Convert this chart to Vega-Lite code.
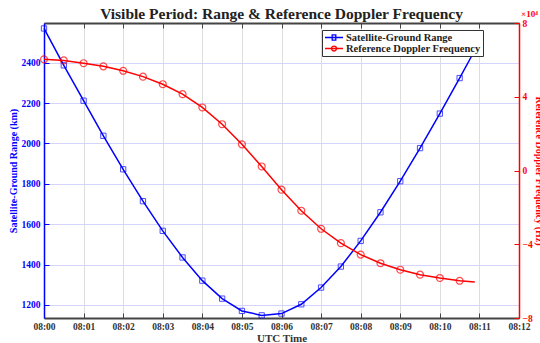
{
  "$schema": "https://vega.github.io/schema/vega-lite/v6.json",
  "autosize": {"type": "none"},
  "width": 475,
  "height": 295,
  "padding": {"left": 44, "top": 23, "right": 21, "bottom": 25},
  "title": {"text": "Visible Period: Range & Reference Doppler Frequency", "font": "Liberation Serif", "fontSize": 15.5, "fontWeight": "bold", "color": "#222222", "anchor": "middle", "offset": -4, "dy": 8},
  "config": {"view": {"stroke": null}, "font": "Liberation Serif"},
  "data": {"values": [
    {"t": "2024-01-01T08:00:00Z", "range": 2570, "doppler": 60300},
    {"t": "2024-01-01T08:00:30Z", "range": 2387, "doppler": 59700},
    {"t": "2024-01-01T08:01:00Z", "range": 2212, "doppler": 58200},
    {"t": "2024-01-01T08:01:30Z", "range": 2038, "doppler": 56500},
    {"t": "2024-01-01T08:02:00Z", "range": 1872, "doppler": 54100},
    {"t": "2024-01-01T08:02:30Z", "range": 1714, "doppler": 50900},
    {"t": "2024-01-01T08:03:00Z", "range": 1567, "doppler": 46800},
    {"t": "2024-01-01T08:03:30Z", "range": 1435, "doppler": 41400},
    {"t": "2024-01-01T08:04:00Z", "range": 1320, "doppler": 34200},
    {"t": "2024-01-01T08:04:30Z", "range": 1231, "doppler": 25100},
    {"t": "2024-01-01T08:05:00Z", "range": 1170, "doppler": 14200},
    {"t": "2024-01-01T08:05:30Z", "range": 1148, "doppler": 2200},
    {"t": "2024-01-01T08:06:00Z", "range": 1157, "doppler": -10400},
    {"t": "2024-01-01T08:06:30Z", "range": 1203, "doppler": -21800},
    {"t": "2024-01-01T08:07:00Z", "range": 1286, "doppler": -31600},
    {"t": "2024-01-01T08:07:30Z", "range": 1390, "doppler": -39400},
    {"t": "2024-01-01T08:08:00Z", "range": 1517, "doppler": -45600},
    {"t": "2024-01-01T08:08:30Z", "range": 1659, "doppler": -50300},
    {"t": "2024-01-01T08:09:00Z", "range": 1813, "doppler": -53800},
    {"t": "2024-01-01T08:09:30Z", "range": 1977, "doppler": -56500},
    {"t": "2024-01-01T08:10:00Z", "range": 2148, "doppler": -58300},
    {"t": "2024-01-01T08:10:30Z", "range": 2324, "doppler": -59800},
    {"t": "2024-01-01T08:10:53Z", "range": 2462, "doppler": -60500}
  ], "format": {"parse": {"t": "date"}}},
  "layer": [
    {
      "layer": [
        {
          "mark": {"type": "line", "strokeWidth": 1.5},
          "encoding": {
            "x": {"field": "t", "type": "temporal",
              "scale": {"type": "utc", "domain": [{"year": 2024, "month": 1, "date": 1, "hours": 8, "minutes": 0, "utc": true}, {"year": 2024, "month": 1, "date": 1, "hours": 8, "minutes": 12, "utc": true}], "nice": false},
              "axis": {"orient": "bottom", "title": "UTC Time", "titleFont": "Liberation Serif", "titleFontSize": 11, "titleFontWeight": "bold", "titleColor": "#333333", "titlePadding": 2,
                "labelExpr": "utcFormat(datum.value, '%H:%M')", "tickCount": 12, "labelFont": "Liberation Serif", "labelFontSize": 9.5, "labelFontWeight": "bold", "labelColor": "#333333", "labelOverlap": false, "labelFlush": false, "labelPadding": 8,
                "domainColor": "#444444", "domainWidth": 1.8, "tickColor": "#444444", "tickSize": -5, "tickWidth": 1,
                "grid": true, "gridColor": "#dddddd", "gridWidth": 1}},
            "y": {"field": "range", "type": "quantitative",
              "scale": {"domain": [1135, 2597], "nice": false, "zero": false},
              "axis": {"orient": "left", "values": [1200, 1400, 1600, 1800, 2000, 2200, 2400], "format": "d", "title": "Satellite-Ground Range (km)", "titleFont": "Liberation Serif", "titleFontSize": 10, "titleFontWeight": "bold", "titleColor": "#0000ff", "titlePadding": 3,
                "labelFont": "Liberation Serif", "labelFontSize": 9.5, "labelFontWeight": "bold", "labelColor": "#0000ff", "labelPadding": 9,
                "domainColor": "#0000ff", "domainWidth": 1.5, "tickColor": "#0000ff", "tickSize": -5,
                "grid": true, "gridColor": "#d4d4ff", "gridWidth": 1}},
            "color": {"datum": "Satellite-Ground Range", "type": "nominal",
              "scale": {"domain": ["Satellite-Ground Range", "Reference Doppler Frequency"], "range": ["#0000ff", "#ff0000"]},
              "legend": {"orient": "none", "legendX": 278, "legendY": 7, "title": null,
                "fillColor": "white", "strokeColor": "#333333", "padding": 2, "rowPadding": 0,
                "labelFont": "Liberation Serif", "labelFontSize": 10.5, "labelFontWeight": "bold", "labelColor": "#222222", "labelOffset": 11,
                "symbolSize": 81, "symbolStrokeWidth": 1.3,
                "encode": {
                  "symbols": {"update": {"shape": {"signal": "datum.value === 'Satellite-Ground Range' ? 'M-1,0L3,0M0.6,-0.6L1.4,-0.6L1.4,0.6L0.6,0.6Z' : 'M-1,0L3,0M0.45,0A0.55,0.55 0 1,1 1.55,0A0.55,0.55 0 1,1 0.45,0Z'"}}}
                }}}
          }
        },
        {
          "transform": [{"filter": "utcseconds(datum.t) % 30 === 0"}],
          "mark": {"type": "point", "shape": "square", "filled": false, "color": "#0000ff", "size": 28, "strokeWidth": 1},
          "encoding": {
            "x": {"field": "t", "type": "temporal"},
            "y": {"field": "range", "type": "quantitative"}
          }
        }
      ]
    },
    {
      "layer": [
        {
          "mark": {"type": "line", "strokeWidth": 1.5},
          "encoding": {
            "x": {"field": "t", "type": "temporal"},
            "y": {"field": "doppler", "type": "quantitative",
              "scale": {"domain": [-80000, 80000], "nice": false, "zero": false},
              "axis": {"orient": "right", "values": [-80000, -60000, -40000, -20000, 0, 20000, 40000, 60000, 80000], "labelExpr": "format(datum.value / 10000, 'd')", "title": "Reference Doppler Frequency (Hz)", "titleFont": "Liberation Serif", "titleFontSize": 10, "titleFontWeight": "bold", "titleColor": "#ff0000", "titlePadding": 1,
                "labelFont": "Liberation Serif", "labelFontSize": 9.5, "labelFontWeight": "bold", "labelColor": "#ff0000", "labelPadding": 8,
                "domainColor": "#ff0000", "domainWidth": 1.5, "tickColor": "#ff0000", "tickSize": -5, "grid": false}},
            "color": {"datum": "Reference Doppler Frequency", "type": "nominal"}
          }
        },
        {
          "transform": [{"filter": "utcseconds(datum.t) % 30 === 0"}],
          "mark": {"type": "point", "shape": "circle", "filled": false, "color": "#ff0000", "size": 48, "strokeWidth": 1.2},
          "encoding": {
            "x": {"field": "t", "type": "temporal",
              "axis": {"orient": "top", "title": null, "labels": false, "grid": false, "tickCount": 12, "domainColor": "#444444", "domainWidth": 1.8, "tickColor": "#444444", "tickSize": -5}},
            "y": {"field": "doppler", "type": "quantitative"}
          }
        },
        {
          "data": {"values": [{"note": "exponent"}]},
          "mark": {"type": "text", "text": "×10⁴", "color": "#ff0000", "font": "Liberation Serif", "fontSize": 9, "fontWeight": "bold", "align": "left", "baseline": "bottom", "dx": 2, "dy": -4},
          "encoding": {
            "x": {"datum": {"year": 2024, "month": 1, "date": 1, "hours": 8, "minutes": 12, "utc": true}, "type": "temporal"},
            "y": {"datum": 80000, "type": "quantitative"}
          }
        }
      ]
    }
  ],
  "resolve": {"scale": {"y": "independent"}}
}
